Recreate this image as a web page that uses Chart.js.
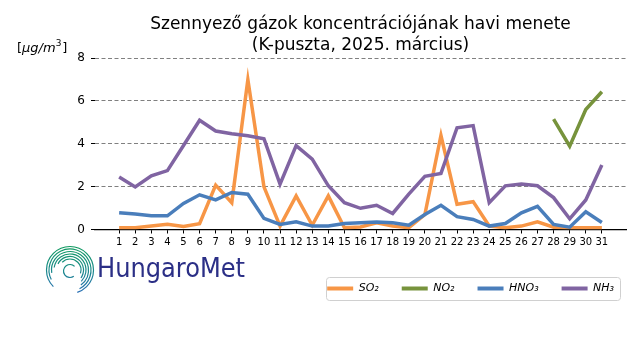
<!DOCTYPE html>
<html>
<head>
<meta charset="utf-8">
<script src="https://cdn.jsdelivr.net/npm/chart.js@4/dist/chart.umd.min.js"></script>
<style>
  html, body { margin: 0; padding: 0; background: #fff; }
</style>
</head>
<body>
<canvas id="grafikon" width="640" height="360"></canvas>
<script>
// napok (x tengely feliratai)
const napok = [1, 2, 3, 4, 5, 6, 7, 8, 9, 10, 11, 12, 13, 14, 15, 16, 17, 18, 19, 20, 21, 22, 23, 24, 25, 26, 27, 28, 29, 30, 31];
const yTickek = [0, 2, 4, 6, 8];
const nevek = ['SO₂', 'NO₂', 'HNO₃', 'NH₃'];

// koncentrációk [µg/m3]
const so2 = [0.08, 0.08, 0.16, 0.24, 0.14, 0.27, 2.07, 1.25, 7.0, 1.99, 0.16, 1.57, 0.2, 1.57, 0.08, 0.12, 0.31, 0.16, 0.08, 0.7, 4.39, 1.18, 1.3, 0.16, 0.08, 0.16, 0.36, 0.11, 0.08, 0.08, 0.08];
const no2 = [null, null, null, null, null, null, null, null, null, null, null, null, null, null, null, null, null, null, null, null, null, null, null, null, null, null, null, 5.15, 3.89, 5.6, 6.43];
const hno3 = [0.78, 0.72, 0.64, 0.64, 1.22, 1.62, 1.38, 1.73, 1.65, 0.52, 0.24, 0.36, 0.16, 0.16, 0.28, 0.31, 0.35, 0.31, 0.2, 0.7, 1.13, 0.6, 0.47, 0.16, 0.28, 0.78, 1.08, 0.24, 0.11, 0.83, 0.33];
const nh3 = [2.45, 1.99, 2.51, 2.75, 3.92, 5.1, 4.6, 4.47, 4.38, 4.24, 2.12, 3.92, 3.29, 2.04, 1.25, 0.99, 1.13, 0.75, 1.65, 2.48, 2.62, 4.75, 4.85, 1.25, 2.04, 2.12, 2.04, 1.49, 0.5, 1.38, 3.01];

const szinek = ['#F79646', '#77933C', '#4A7EBB', '#8064A2'];
const FONT = '"DejaVu Sans", "Liberation Sans", sans-serif';

function pontok(ertekek) {
    return ertekek.map((v, i) => ({ x: napok[i], y: v }));
}

const adatsorok = [so2, no2, hno3, nh3].map((sor, i) => ({
    label: nevek[i],
    data: pontok(sor),
    borderColor: szinek[i],
    backgroundColor: szinek[i],
    borderWidth: 3.5,
    pointRadius: 0,
    tension: 0,
    spanGaps: false,
    order: 3 - i
}));

// logó, mértékegység, jelmagyarázat kerete
const extrak = {
    id: 'extrak',
    afterLayout(chart) {
        chart.legend.left += 11;
        chart.legend.right += 11;
    },
    afterDraw(chart) {
        const ctx = chart.ctx;
        ctx.save();

        // mértékegység
        ctx.fillStyle = '#000';
        ctx.textBaseline = 'alphabetic';
        let x = 17;
        const y = 52;
        ctx.font = '13px ' + FONT;
        ctx.fillText('[', x, y);
        x += ctx.measureText('[').width;
        ctx.font = 'italic 13px ' + FONT;
        ctx.fillText('μg/m', x, y);
        x += ctx.measureText('μg/m').width;
        ctx.font = '9px ' + FONT;
        ctx.fillText('3', x, y - 6);
        x += ctx.measureText('3').width + 1;
        ctx.font = '13px ' + FONT;
        ctx.fillText(']', x, y);

        // jelmagyarázat kerete
        const hb = chart.legend.legendHitBoxes;
        if (hb && hb.length) {
            const l = Math.min(...hb.map(b => b.left)) - 1.5;
            const r = Math.max(...hb.map(b => b.left + b.width)) + 5.5;
            const t = hb[0].top - 6;
            const b = hb[0].top + hb[0].height + 6;
            ctx.strokeStyle = '#d0d0d0';
            ctx.lineWidth = 1;
            ctx.beginPath();
            ctx.roundRect(Math.round(l) + 0.5, Math.round(t) + 0.5, Math.round(r - l), Math.round(b - t), 3);
            ctx.stroke();
        }

        // HungaroMet logó
        const cx = 70, cy = 270;
        const grad = ctx.createLinearGradient(0, cy - 24, 0, cy + 24);
        grad.addColorStop(0, '#0f9a5e');
        grad.addColorStop(0.5, '#1a8a8a');
        grad.addColorStop(1, '#2a6db8');
        ctx.strokeStyle = grad;
        ctx.lineWidth = 1.2;
        const gyuruk = [[23.5, 0.75, 2.05], [21, 0.85, 2.0], [18.5, 0.95, 1.95], [16, 1.05, 1.9], [13.5, 1.15, 1.85], [11, 1.25, 1.75]];
        gyuruk.forEach(([rr, a0, a1]) => {
            ctx.beginPath();
            ctx.arc(cx, cy, rr, a0 * Math.PI, (a1 + 0.35) * Math.PI);
            ctx.stroke();
        });
        ctx.beginPath();
        ctx.arc(cx, cy + 1, 6.5, 0.3 * Math.PI, 1.75 * Math.PI);
        ctx.stroke();

        ctx.fillStyle = '#2b2f86';
        ctx.font = '26px ' + FONT;
        const felirat = 'HungaroMet';
        const w = ctx.measureText(felirat).width;
        ctx.translate(97, 277);
        ctx.scale(148 / w, 1);
        ctx.fillText(felirat, 0, 0);
        ctx.restore();
    }
};

new Chart(document.getElementById('grafikon'), {
    type: 'line',
    data: { datasets: adatsorok },
    options: {
        responsive: false,
        devicePixelRatio: 1,
        animation: false,
        layout: { padding: { left: 0, right: 14, top: 0, bottom: 56 } },
        plugins: {
            title: {
                display: true,
                fullSize: false,
                text: ['Szennyező gázok koncentrációjának havi menete', '(K-puszta, 2025. március)'],
                color: '#000',
                font: { family: FONT, size: 17, weight: 'normal', lineHeight: 1.24 },
                padding: { top: 14, bottom: 2 }
            },
            legend: {
                position: 'bottom',
                align: 'end',
                labels: {
                    color: '#000',
                    font: { family: FONT, size: 11, style: 'italic' },
                    boxWidth: 26,
                    boxHeight: 4,
                    padding: 23,
                    sort: (a, b) => a.datasetIndex - b.datasetIndex,
                    generateLabels(chart) {
                        const items = Chart.defaults.plugins.legend.labels.generateLabels(chart);
                        items.forEach(it => { it.lineWidth = 0; });
                        return items;
                    }
                }
            },
            tooltip: { enabled: false }
        },
        scales: {
            x: {
                type: 'linear',
                min: -0.5,
                max: 32.5,
                afterBuildTicks(scale) {
                    scale.ticks = napok.map(v => ({ value: v }));
                },
                afterFit(scale) { scale.height = 30.5; },
                ticks: {
                    autoSkip: false,
                    maxRotation: 0,
                    padding: 3,
                    color: '#000',
                    font: { family: FONT, size: 10 },
                    callback: v => String(v)
                },
                grid: {
                    drawOnChartArea: false,
                    drawTicks: true,
                    tickLength: 4,
                    tickColor: '#000'
                },
                border: { display: true, color: '#000', width: 1.2 }
            },
            y: {
                min: 0,
                max: 8,
                afterBuildTicks(scale) {
                    scale.ticks = yTickek.map(v => ({ value: v }));
                },
                afterFit(scale) { scale.width = 95; },
                ticks: {
                    padding: 6,
                    color: '#000',
                    font: { family: FONT, size: 12 }
                },
                grid: {
                    color: c => (c.tick && c.tick.value === 0) ? 'rgba(0,0,0,0)' : '#808080',
                    lineWidth: 1,
                    drawTicks: true,
                    tickLength: 4,
                    tickColor: '#000',
                    tickBorderDash: []
                },
                border: { display: false, dash: [4, 2.5] }
            }
        }
    },
    plugins: [extrak]
});
</script>
</body>
</html>
